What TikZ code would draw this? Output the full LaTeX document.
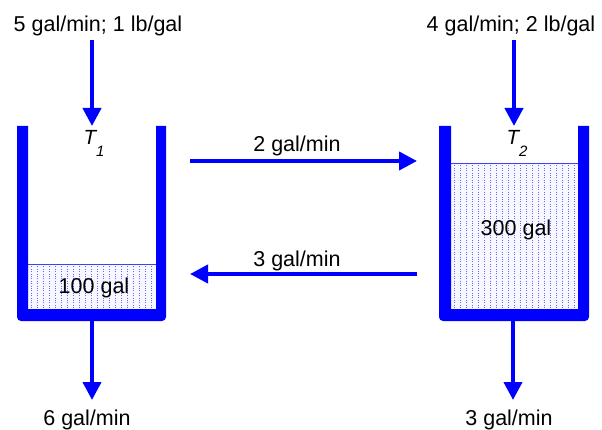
\documentclass[tikz,border=0pt]{standalone}
\usepackage{fontspec}
\setmainfont{Liberation Sans}
\usetikzlibrary{arrows.meta}

\begin{document}
\begin{tikzpicture}[x=1pt, y=-1pt,
  flow/.style={draw=blue, line width=4pt, -{Triangle[length=18pt, width=18pt]}},
  wall/.style={fill=blue},
  liquid/.style={draw=blue!60, line width=0.6pt, dash pattern=on 0.8pt off 1.6pt},
  surface/.style={draw=blue!75, line width=0.7pt},
  lbl/.style={inner sep=0pt, anchor=base, font=\fontsize{21.5}{24}\selectfont},
  tlbl/.style={lbl, font=\fontsize{20.5}{22}\selectfont\itshape}]
\useasboundingbox (0,0) rectangle (602,430);

% liquid in tank 1 and tank 2
\fill[blue!3] (28,264) rectangle (156,309);
\foreach \x in {31,37,...,155}
  \draw[liquid] (\x,264) -- (\x,309);
\draw[surface] (28,264) -- (156,264);

\fill[blue!3] (451,163) rectangle (578,309);
\foreach \x in {454,460,...,577}
  \draw[liquid] (\x,163) -- (\x,309);
\draw[surface] (451,163) -- (578,163);

% tank walls
\fill[wall] (166,126) -- (156,126) -- (156,309) -- (28,309) -- (28,126) -- (17,126)
  [rounded corners=4pt] -- (17,321) -- (166,321) [sharp corners] -- cycle;
\fill[wall] (589,126) -- (578,126) -- (578,309) -- (451,309) -- (451,126) -- (439,126)
  [rounded corners=4pt] -- (439,321) -- (589,321) [sharp corners] -- cycle;

% texts
\node[lbl] (in1) at (98,32) {5 gal/min; 1 lb/gal};
\node[lbl] (in2) at (511,32) {4 gal/min; 2 lb/gal};
\node[lbl] (out1) at (87,425) {6 gal/min};
\node[lbl] (out2) at (509,425) {3 gal/min};
\node[lbl] (vol1) at (94,294) {100 gal};
\node[lbl] (vol2) at (516,236) {300 gal};
\node[lbl] (rate12) at (297,152) {2 gal/min};
\node[lbl] (rate21) at (297,267) {3 gal/min};
\node[tlbl] (T1) at (94,145) {T\raisebox{-12pt}{\fontsize{15}{15}\selectfont 1}};
\node[tlbl] (T2) at (517,145) {T\raisebox{-12pt}{\fontsize{15}{15}\selectfont 2}};

% pipe ends
\coordinate (t1in) at (92,40);
\coordinate (t1top) at (92,126);
\coordinate (t1bot) at (92,321);
\coordinate (t1out) at (92,400);
\coordinate (t2in) at (514,40);
\coordinate (t2top) at (514,126);
\coordinate (t2bot) at (513,321);
\coordinate (t2out) at (513,400);
\coordinate (p12a) at (190,161);
\coordinate (p12b) at (417,161);
\coordinate (p21a) at (417,274);
\coordinate (p21b) at (190,274);

% flows
\draw[flow] (t1in) -- (t1top);
\draw[flow] (t2in) -- (t2top);
\draw[flow] (t1bot) -- (t1out);
\draw[flow] (t2bot) -- (t2out);
\draw[flow] (p12a) -- (p12b);
\draw[flow] (p21a) -- (p21b);
\end{tikzpicture}
\end{document}
